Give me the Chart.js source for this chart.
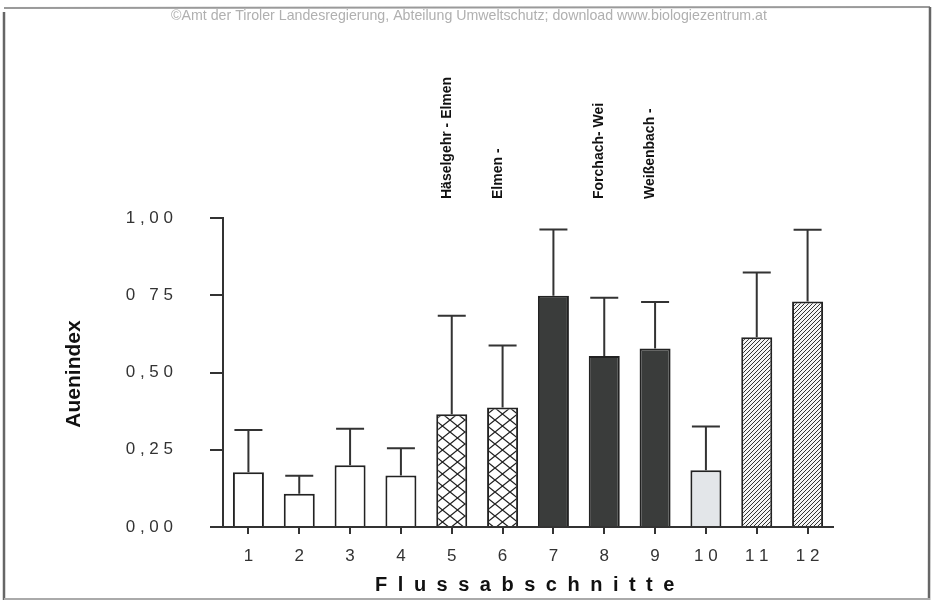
<!DOCTYPE html>
<html>
<head>
<meta charset="utf-8">
<script src="https://cdn.jsdelivr.net/npm/chart.js@4.4.0/dist/chart.umd.min.js"></script>
<style>
html, body { margin: 0; padding: 0; background: #fff; }
</style>
</head>
<body>
<canvas id="chart" width="933" height="600"></canvas>
<script>
/* =========================
   DATA
========================= */

const sections = ["1", "2", "3", "4", "5", "6", "7", "8", "9", "1 0", "1 1", "1 2"];
const auenindex = [0.177, 0.108, 0.200, 0.167, 0.365, 0.387, 0.748, 0.553, 0.578, 0.184, 0.614, 0.730];
const errorTop = [0.314, 0.166, 0.318, 0.255, 0.684, 0.587, 0.963, 0.742, 0.728, 0.325, 0.824, 0.962];
const yTickValues = [0, 0.25, 0.5, 0.75, 1];
const yTickLabels = ["0 , 0 0", "0 , 2 5", "0 , 5 0", "0   7 5", "1 , 0 0"];
const stretchNames = ["", "", "", "", "Häselgehr - Elmen", "Elmen -", "", "Forchach- Wei", "Weißenbach -", "", "", ""];
const fillKinds = ["white", "white", "white", "white", "cross", "cross", "dark", "dark", "dark", "light", "hatch", "hatch"];

/* =========================
   PATTERNS
========================= */

function makeCrossPattern() {
    const c = document.createElement("canvas");
    c.width = 15; c.height = 12;
    const g = c.getContext("2d");
    g.fillStyle = "#fff";
    g.fillRect(0, 0, 15, 12);
    g.strokeStyle = "#222";
    g.lineWidth = 1.3;
    g.beginPath();
    g.moveTo(0, 0); g.lineTo(15, 12);
    g.moveTo(15, 0); g.lineTo(0, 12);
    g.stroke();
    return g.createPattern(c, "repeat");
}

function makeHatchPattern() {
    const c = document.createElement("canvas");
    c.width = 4; c.height = 4;
    const g = c.getContext("2d");
    g.fillStyle = "#f4f4f4";
    g.fillRect(0, 0, 4, 4);
    g.strokeStyle = "#333";
    g.lineWidth = 1;
    g.beginPath();
    g.moveTo(-1, 5); g.lineTo(5, -1);
    g.moveTo(-1, 1); g.lineTo(1, -1);
    g.moveTo(3, 5); g.lineTo(5, 3);
    g.stroke();
    return g.createPattern(c, "repeat");
}

const fills = {
    white: "#ffffff",
    cross: makeCrossPattern(),
    dark: "#3a3c3b",
    light: "#e3e6e9",
    hatch: makeHatchPattern()
};

/* =========================
   PLUGINS
========================= */

const paperPlugin = {
    id: "paper",
    beforeDraw(chart) {
        const ctx = chart.ctx;
        ctx.save();
        ctx.fillStyle = "#fff";
        ctx.fillRect(0, 0, chart.width, chart.height);
        ctx.restore();
    },
    afterDraw(chart) {
        const ctx = chart.ctx;
        ctx.save();
        // frame of the scanned page
        ctx.strokeStyle = "#9a9a9a";
        ctx.lineWidth = 2;
        ctx.beginPath();
        ctx.moveTo(4, 8); ctx.lineTo(930, 7);
        ctx.stroke();
        ctx.strokeStyle = "#666";
        ctx.lineWidth = 2.5;
        ctx.beginPath();
        ctx.moveTo(4, 12); ctx.lineTo(4, 600);
        ctx.moveTo(930, 7); ctx.lineTo(929, 600);
        ctx.stroke();
        ctx.strokeStyle = "#aaa";
        ctx.lineWidth = 2;
        ctx.beginPath();
        ctx.moveTo(4, 599); ctx.lineTo(930, 599);
        ctx.stroke();

        // watermark
        ctx.fillStyle = "#b0b0b0";
        ctx.font = "14.2px 'Liberation Sans', Arial, sans-serif";
        ctx.textAlign = "center";
        ctx.textBaseline = "middle";
        ctx.fillText("©Amt der Tiroler Landesregierung, Abteilung Umweltschutz; download www.biologiezentrum.at", 469, 16);

        // axis titles
        ctx.fillStyle = "#111";
        ctx.font = "bold 21px 'Liberation Sans', Arial, sans-serif";
        ctx.save();
        ctx.translate(74, 374);
        ctx.rotate(-Math.PI / 2);
        ctx.fillText("Auenindex", 0, 0);
        ctx.restore();

        ctx.font = "bold 20px 'Liberation Sans', Arial, sans-serif";
        ctx.letterSpacing = "10.5px";
        ctx.fillText("Flussabschnitte", 530, 585);
        ctx.letterSpacing = "0px";

        // river stretch names above bars
        const x = chart.scales.x;
        ctx.font = "bold 14px 'Liberation Sans', Arial, sans-serif";
        ctx.textAlign = "left";
        ctx.textBaseline = "alphabetic";
        stretchNames.forEach((name, i) => {
            if (!name) return;
            ctx.save();
            ctx.translate(x.getPixelForValue(i) - 1, 199);
            ctx.rotate(-Math.PI / 2);
            ctx.fillText(name, 0, 0);
            ctx.restore();
        });
        ctx.restore();
    }
};

const errorBarPlugin = {
    id: "errorBars",
    afterDatasetsDraw(chart) {
        const ctx = chart.ctx;
        const y = chart.scales.y;
        const meta = chart.getDatasetMeta(0);
        ctx.save();
        ctx.strokeStyle = "#333";
        ctx.lineWidth = 2;
        meta.data.forEach((bar, i) => {
            const top = y.getPixelForValue(errorTop[i]);
            ctx.beginPath();
            ctx.moveTo(bar.x, bar.y);
            ctx.lineTo(bar.x, top);
            ctx.moveTo(bar.x - 14, top);
            ctx.lineTo(bar.x + 14, top);
            ctx.stroke();
        });
        ctx.restore();
    }
};

/* =========================
   CHART
========================= */

new Chart(document.getElementById("chart"), {
    type: "bar",
    data: {
        labels: sections,
        datasets: [{
            data: auenindex,
            backgroundColor: fillKinds.map(k => fills[k]),
            borderColor: "#222",
            borderWidth: 2,
            categoryPercentage: 1,
            barPercentage: 0.61
        }]
    },
    options: {
        responsive: false,
        animation: false,
        events: [],
        layout: { padding: { top: 218, right: 100, left: 0, bottom: 0 } },
        plugins: {
            legend: { display: false },
            tooltip: { enabled: false }
        },
        scales: {
            x: {
                afterFit(scale) { scale.height = 73; },
                grid: {
                    offset: false,
                    drawOnChartArea: false,
                    drawTicks: true,
                    tickLength: 7,
                    color: "#333",
                    lineWidth: 2
                },
                border: { display: true, color: "#333", width: 2 },
                ticks: {
                    color: "#333",
                    padding: 12,
                    maxRotation: 0,
                    font: { family: "'Liberation Sans', Arial, sans-serif", size: 17 }
                }
            },
            y: {
                min: 0,
                max: 1,
                afterFit(scale) { scale.width = 223; },
                afterBuildTicks(scale) {
                    scale.ticks = yTickValues.map(v => ({ value: v }));
                },
                grid: {
                    drawOnChartArea: false,
                    drawTicks: true,
                    tickLength: 13,
                    color: "#333",
                    lineWidth: 2
                },
                border: { display: true, color: "#333", width: 2 },
                ticks: {
                    color: "#333",
                    padding: 37,
                    font: { family: "'Liberation Sans', Arial, sans-serif", size: 17 },
                    callback: (v) => yTickLabels[yTickValues.indexOf(v)]
                }
            }
        }
    },
    plugins: [paperPlugin, errorBarPlugin]
});
</script>
</body>
</html>
